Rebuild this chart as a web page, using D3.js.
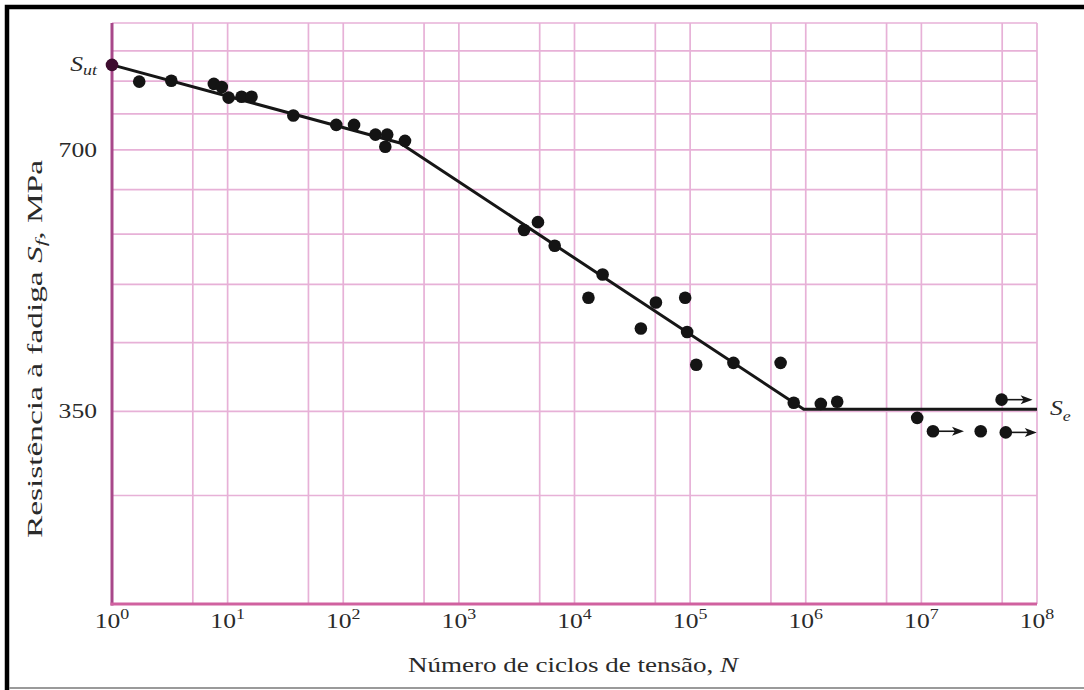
<!DOCTYPE html>
<html>
<head>
<meta charset="utf-8">
<script src="https://cdn.jsdelivr.net/npm/d3@7"></script>
<style>
  html, body { margin: 0; padding: 0; background: #fff; }
  svg { display: block; font-family: "Liberation Serif", "Times New Roman", serif; }
</style>
</head>
<body>
<div class="chart"></div>
<script>
'use strict';

// Axis values
var X_TICKS = [1, 1e1, 1e2, 1e3, 1e4, 1e5, 1e6, 1e7, 1e8];
var X_TICK_EXPONENTS = ['0', '1', '2', '3', '4', '5', '6', '7', '8'];
var X_GRID = [1, 5, 1e1, 5e1, 1e2, 5e2, 1e3, 5e3, 1e4, 5e4, 1e5, 5e5, 1e6, 5e6, 1e7, 5e7, 1e8];
var Y_GRID = [210, 280, 350, 420, 490, 560, 630, 700, 770, 840, 910, 980];
var Y_TICKS = [350, 700];

// Test points: cycles N, fatigue strength Sf (MPa)
var CYCLES = [1, 1.72, 3.26, 7.6, 8.9, 10.2, 13.2, 16.1, 37, 87,
  124, 190, 240, 231, 342, 3660, 4830, 6740, 17500, 13200,
  50600, 90600, 37500, 94200, 113000, 237000, 606000, 787000, 1.35e6, 1.87e6,
  9.2e6, 1.26e7, 3.26e7, 5.37e7, 4.94e7];
var STRENGTH = [877, 839, 841, 834, 827, 804, 806, 806, 767, 748,
  748, 729, 729, 706, 717, 566, 578, 543, 503, 473,
  467, 473, 436, 432, 396, 398, 398, 358, 357, 359,
  344, 332, 332, 331, 361];
// Points that did not fail (run-outs)
var RUNOUT = [31, 33, 34];

// Fitted S-N curve
var CURVE_CYCLES = [1, 310, 9.6e5, 1e8];
var CURVE_STRENGTH = [877, 713, 352, 352];

var SUT = 877;
var SE = 352;

var WIDTH = 1084;
var HEIGHT = 690;
var PLOT = { left: 112, right: 1037, top: 23, bottom: 604 };
var STRETCH = 1.28;

var svg = d3.select('.chart').append('svg')
  .attr('width', WIDTH)
  .attr('height', HEIGHT);

var x = d3.scaleLog().domain([1, 1e8]).range([PLOT.left, PLOT.right]);
var y = d3.scaleLog().domain([210, 980]).range([PLOT.bottom, PLOT.top]);

// Grid
var grid = svg.append('g').attr('class', 'grid')
  .style('stroke', '#e7b1d7')
  .style('stroke-width', 1.7);

grid.selectAll('line.v')
  .data(X_GRID)
  .enter()
  .append('line')
  .attr('class', 'v')
  .attr('x1', function(d) { return x(d); })
  .attr('x2', function(d) { return x(d); })
  .attr('y1', PLOT.top)
  .attr('y2', PLOT.bottom);

grid.selectAll('line.h')
  .data(Y_GRID)
  .enter()
  .append('line')
  .attr('class', 'h')
  .attr('x1', PLOT.left)
  .attr('x2', PLOT.right)
  .attr('y1', function(d) { return y(d); })
  .attr('y2', function(d) { return y(d); });

// Axis lines (left is darker than the bottom one)
svg.append('line')
  .attr('x1', PLOT.left).attr('x2', PLOT.left)
  .attr('y1', PLOT.top).attr('y2', PLOT.bottom + 1.5)
  .style('stroke', '#a8488a')
  .style('stroke-width', 3);
svg.append('line')
  .attr('x1', PLOT.left - 1.5).attr('x2', PLOT.right)
  .attr('y1', PLOT.bottom).attr('y2', PLOT.bottom)
  .style('stroke', '#d0619f')
  .style('stroke-width', 3);

// S-N curve
var curveData = CURVE_CYCLES.map(function(n, i) { return [n, CURVE_STRENGTH[i]]; });
var line = d3.line()
  .x(function(d) { return x(d[0]); })
  .y(function(d) { return y(d[1]); });

svg.append('path')
  .datum(curveData)
  .attr('d', line)
  .style('fill', 'none')
  .style('stroke', '#161616')
  .style('stroke-width', 3)
  .style('stroke-linejoin', 'round');

// Run-out arrows
var arrows = svg.append('g').attr('class', 'arrows');
RUNOUT.forEach(function(i) {
  var px = x(CYCLES[i]);
  var py = y(STRENGTH[i]);
  var tip = px + 31;
  arrows.append('line')
    .attr('x1', px).attr('x2', tip - 6)
    .attr('y1', py).attr('y2', py)
    .style('stroke', '#161616')
    .style('stroke-width', 1.6);
  arrows.append('path')
    .attr('d', 'M' + tip + ',' + py + 'L' + (tip - 12) + ',' + (py - 4.5) +
      'L' + (tip - 9) + ',' + py + 'L' + (tip - 12) + ',' + (py + 4.5) + 'Z')
    .style('fill', '#161616');
});

// Points
svg.selectAll('circle.point')
  .data(CYCLES)
  .enter()
  .append('circle')
  .attr('class', 'point')
  .attr('cx', function(d) { return x(d); })
  .attr('cy', function(d, i) { return y(STRENGTH[i]); })
  .attr('r', 6.3)
  .style('fill', function(d, i) { return i === 0 ? '#3e0c2f' : '#141414'; });

// Horizontally stretched text, like the scanned figure
function stretchedText(px, py, anchor) {
  return svg.append('g')
    .attr('transform', 'translate(' + px + ',' + py + ') scale(' + STRETCH + ',1)')
    .append('text')
    .attr('text-anchor', anchor)
    .style('font-size', '20px')
    .style('fill', '#2a2a2a');
}

// X tick labels
X_TICKS.forEach(function(d, i) {
  var t = stretchedText(x(d), 628, 'middle');
  t.append('tspan').text('10');
  t.append('tspan')
    .attr('dy', -9)
    .style('font-size', '14px')
    .text(X_TICK_EXPONENTS[i]);
});

// Y tick labels
Y_TICKS.forEach(function(d) {
  stretchedText(97, y(d) + 7, 'end').text(d);
});

// Sut and Se labels
var sut = stretchedText(97, y(SUT) + 6, 'end');
sut.append('tspan').style('font-style', 'italic').text('S');
sut.append('tspan').attr('dy', 4).style('font-style', 'italic').style('font-size', '14px').text('ut');

var se = stretchedText(1050, y(SE) + 6, 'start');
se.append('tspan').style('font-style', 'italic').text('S');
se.append('tspan').attr('dy', 6).style('font-style', 'italic').style('font-size', '14px').text('e');

// Axis titles
var xTitle = svg.append('text')
  .attr('x', 408)
  .attr('y', 672)
  .attr('textLength', 330)
  .attr('lengthAdjust', 'spacingAndGlyphs')
  .style('font-size', '21px')
  .style('fill', '#2a2a2a');
xTitle.append('tspan').text('Número de ciclos de tensão, ');
xTitle.append('tspan').style('font-style', 'italic').text('N');

var yTitle = svg.append('text')
  .attr('transform', 'translate(42,538) rotate(-90)')
  .attr('textLength', 378)
  .attr('lengthAdjust', 'spacingAndGlyphs')
  .style('font-size', '21px')
  .style('fill', '#2a2a2a');
yTitle.append('tspan').text('Resistência à fadiga ');
yTitle.append('tspan').style('font-style', 'italic').text('S');
yTitle.append('tspan').attr('dy', 4).style('font-style', 'italic').style('font-size', '15px').text('f');
yTitle.append('tspan').attr('dy', -4).text(', MPa');

// Frame of the scanned page
svg.append('path')
  .attr('d', 'M7,' + HEIGHT + 'V7H' + WIDTH)
  .style('fill', 'none')
  .style('stroke', '#000')
  .style('stroke-width', 4.5);
svg.append('line')
  .attr('x1', 9).attr('x2', WIDTH)
  .attr('y1', 688).attr('y2', 688)
  .style('stroke', '#9a9a9a')
  .style('stroke-width', 2);
</script>
</body>
</html>
